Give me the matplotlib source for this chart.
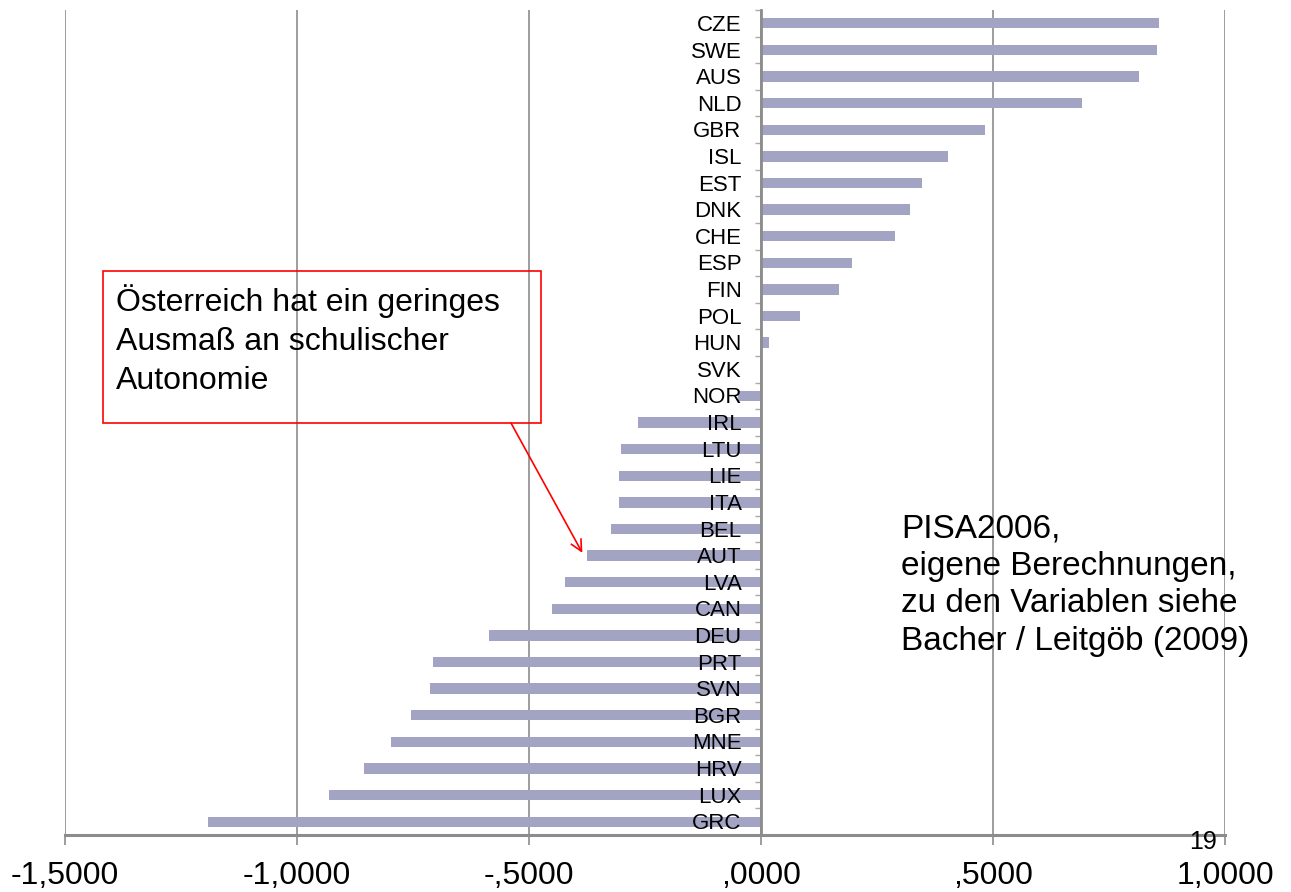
import matplotlib
matplotlib.use("Agg")
import matplotlib.pyplot as plt
from matplotlib.patches import Rectangle
import numpy as np

plt.rcParams["font.family"] = ["Liberation Sans", "DejaVu Sans"]

# school autonomy index per country, PISA 2006 (top to bottom)
countries = ["CZE", "SWE", "AUS", "NLD", "GBR", "ISL", "EST", "DNK", "CHE", "ESP",
             "FIN", "POL", "HUN", "SVK", "NOR", "IRL", "LTU", "LIE", "ITA", "BEL",
             "AUT", "LVA", "CAN", "DEU", "PRT", "SVN", "BGR", "MNE", "HRV", "LUX", "GRC"]
values = [0.858, 0.854, 0.815, 0.692, 0.483, 0.403, 0.347, 0.321, 0.289, 0.196,
          0.168, 0.084, 0.018, 0.002, -0.050, -0.265, -0.302, -0.306, -0.306, -0.324,
          -0.375, -0.423, -0.451, -0.586, -0.707, -0.714, -0.754, -0.798, -0.855, -0.931, -1.192]
xticks = [-1.5, -1.0, -0.5, 0.0, 0.5, 1.0]
xticklabels = ["-1,5000", "-1,0000", "-,5000", ",0000", ",5000", "1,0000"]

W, H = 1291, 892
fig = plt.figure(figsize=(W / 100, H / 100), dpi=100)
ax = fig.add_axes([65 / W, 1 - 835 / H, (1225 - 65) / W, (835 - 10) / H])

pos = np.arange(len(countries))
ax.barh(pos, values, height=0.39, color="#A3A4C4", zorder=3)

ax.set_xlim(-1.5, 1.0)
ax.set_ylim(len(countries) - 0.5, -0.5)

ax.set_xticks(xticks)
ax.set_xticklabels(xticklabels)
ax.xaxis.grid(True, color="#8C8C8C", linewidth=1.2, zorder=0)
ax.tick_params(axis="x", length=7.5, width=1.2, color="#8C8C8C", pad=11, labelsize=23)

# small ticks between categories on the zero line
ax.set_yticks([])
ax.set_yticks(np.arange(len(countries) + 1) - 0.5, minor=True)
ax.tick_params(axis="y", which="minor", length=4, width=1, color="#AAAAAA")

# country codes written over the bars, right-aligned left of zero
for i, c in enumerate(countries):
    ax.annotate(c, xy=(0, i), xytext=(-14, -1.5), textcoords="offset points",
                ha="right", va="center", fontsize=16, zorder=6)

for s in ["top", "right"]:
    ax.spines[s].set_visible(False)
ax.spines["left"].set_position(("data", 0))
ax.spines["left"].set_color("#8C8C8C")
ax.spines["left"].set_linewidth(2)
ax.spines["left"].set_zorder(4)
ax.spines["bottom"].set_color("#8C8C8C")
ax.spines["bottom"].set_linewidth(2.2)

# note box with arrow to Austria
px = lambda x, y: (x / W, 1 - y / H)
x0, y0 = px(103, 423)
x1, y1 = px(541, 271)
fig.patches.append(Rectangle((x0, y0), x1 - x0, y1 - y0, transform=fig.transFigure,
                             fill=False, edgecolor="red", linewidth=1.2, zorder=5))
fig.text(*px(116, 284), "Österreich hat ein geringes\nAusmaß an schulischer\nAutonomie",
         fontsize=23, va="top", ha="left", linespacing=1.4)
aut = countries.index("AUT")
ax.annotate("", xy=(values[aut] - 0.01, aut - 0.1), xycoords="data",
            xytext=px(511, 423), textcoords="figure fraction",
            arrowprops=dict(arrowstyle="->", color="red", lw=1.2,
                            mutation_scale=20, shrinkA=0, shrinkB=0))

fig.text(*px(901, 513), "PISA2006,\neigene Berechnungen,\nzu den Variablen siehe\nBacher / Leitgöb (2009)",
         fontsize=24, va="top", ha="left", linespacing=1.28)

fig.text(*px(1217, 849), "19", fontsize=18, ha="right", va="baseline")

fig.savefig("out.png", dpi=100)
